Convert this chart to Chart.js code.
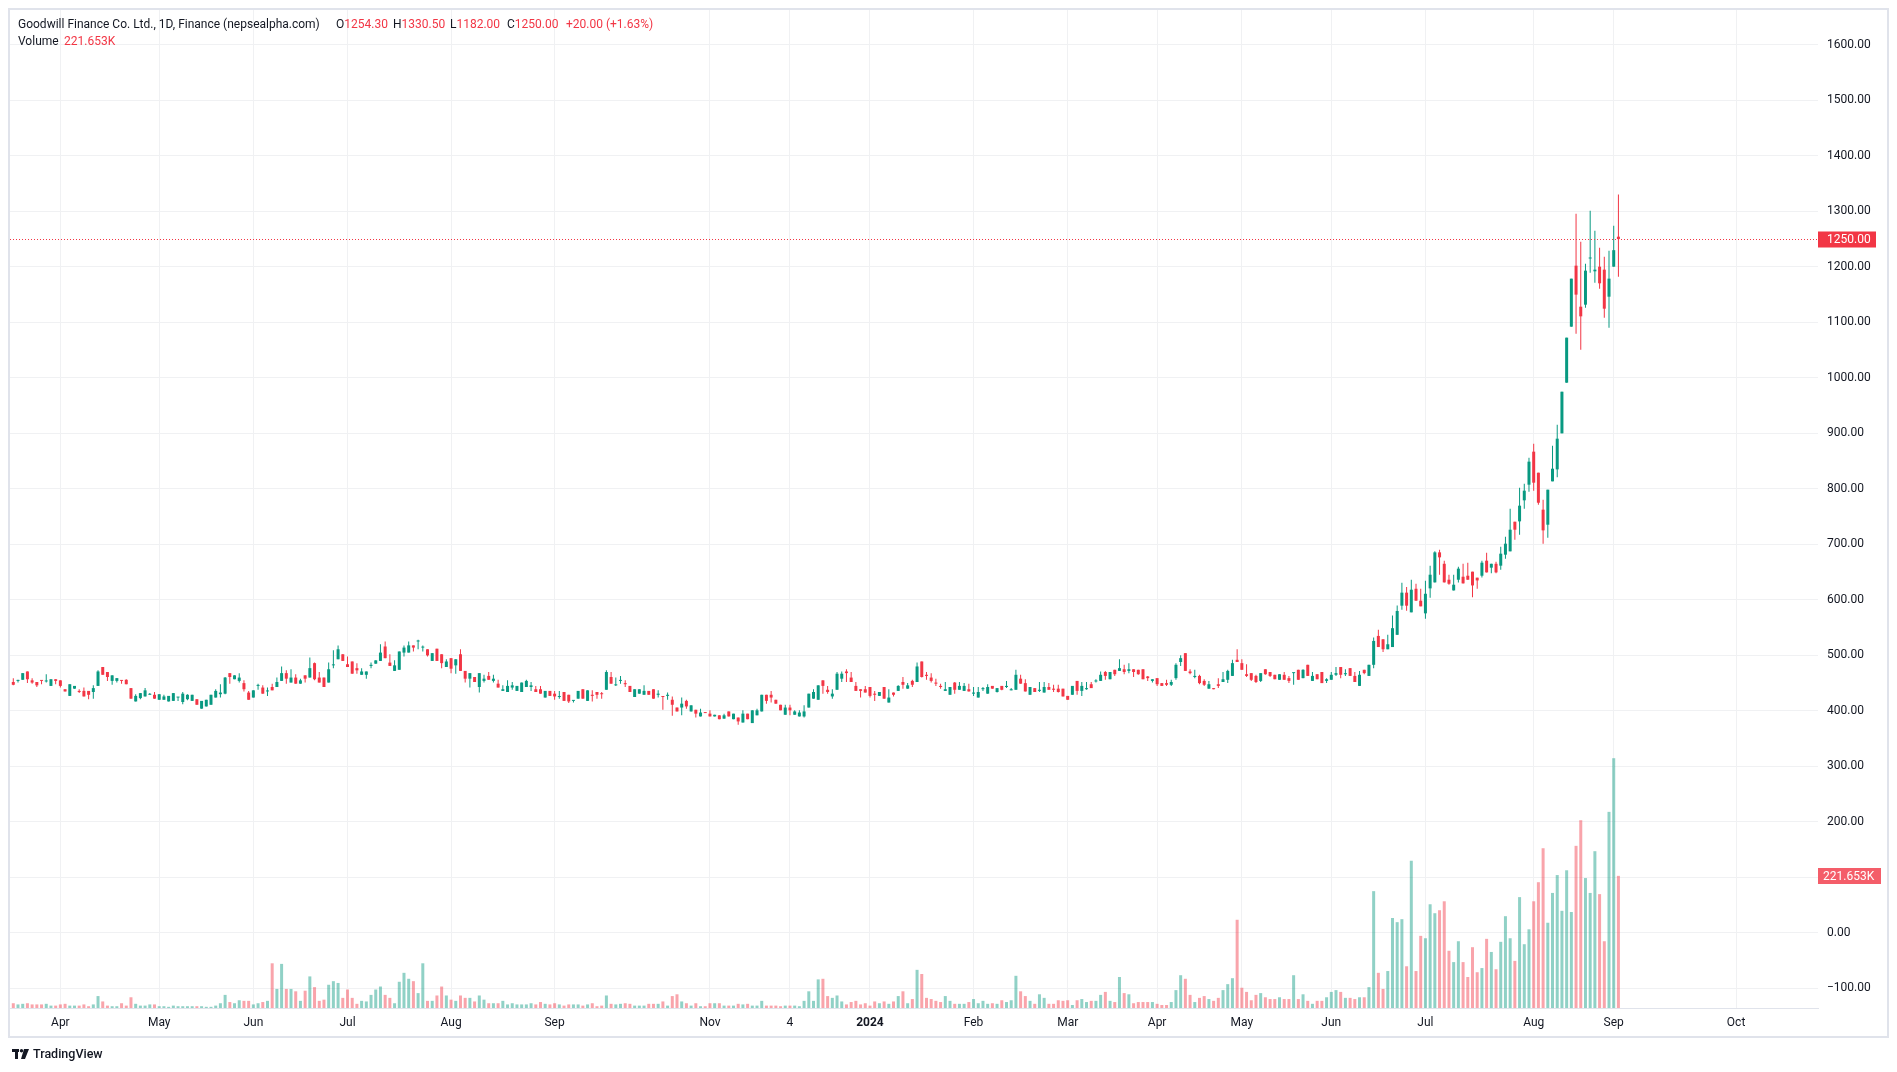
<!DOCTYPE html>
<html>
<head>
<meta charset="utf-8">
<script src="https://cdn.jsdelivr.net/npm/chart.js@4.4.1/dist/chart.umd.min.js"></script>
<style>
  html, body { margin: 0; padding: 0; background: #fff; }
  #wrap { position: relative; width: 1897px; height: 1072px; }
</style>
</head>
<body>
<div id="wrap"><canvas id="chart" width="1897" height="1072"></canvas></div>
<script>
// ── Dados (GFCL, diário) ─────────────────────────────────────
const opens = [
  452,454,456,471,455,452,455,453,445,457, 455,439,427,440,436,436,436,434,445,479,
  470,454,454,455,456,441,417,423,426,429, 429,420,420,417,418,424,416,421,418,421,
  404,408,411,424,430,431,468,457,454,450, 433,424,445,442,435,443,443,454,468,451,
  460,449,464,460,486,460,460,451,482,493, 502,484,489,477,465,465,481,485,490,516,
  487,472,474,505,505,518,525,514,511,490, 512,502,479,495,482,502,472,458,461,443,
  454,463,454,449,
  436,434,442,436,434,443,443,439,439,424, 436,431,425,434,429,418,422,439,418,429,
  434,431,438,461,446,454,450,445,425,431, 429,436,439,429,426,427,420,406,406,418,
  399,402,390,397,395,390,392,386,399,385, 388,379,395,378,392,399,429,429,420,411,
  393,406,393,390,390,406,422,420,455,438, 426,438,458,471,460,445,439,439,443,431,
  427,443,415,433,436,452,440,454,452,489, 465,460,451,445,436,429,451,438,436,439,
  431,424,439,431,445,434,
  445,443,437,438,458,450,429,441,436,433, 443,440,440,440,427,429,454,436,439,448,
  453,454,470,457,474,472,475,472,475,474, 475,462,454,459,450,450,447,459,488,504,
  471,461,463,454,440,441,448,452,456,463, 492,486,466,468,463,454,475,470,465,456,
  465,459,468,474,459,483,454,466,470,454, 456,465,479,466,477,463,445,474,463,483,
  535,529,511,515,537,
  589.5,613,577.5,620,598.5,575.7,620.7,631.5,685.6,665,
  636.3,617,636.3,641.7,643.5,650.8,640,643.5,670.6,658,
  665,661.6,681.4,687.4,740.8,741.4,779.3,807.5,867,829.1,
  762.5,735.4,813.5,835.1,900,991.3,1092.2,1202.1,1128.2,1131.8,
  1215,1191.9,1200.3,1194.9,1146.2,1200.3,1254.3
];
const highs = [
  459,456,468,471,459,452,455,466,457,457, 455,439,448,445,439,442,436,446,473,479,
  470,464,459,455,457,441,430,432,441,432, 434,430,429,427,432,425,434,430,429,421,
  418,420,429,439,448,461,468,464,468,455, 436,437,449,446,442,449,460,480,473,475,
  466,458,464,496,487,470,460,487,509,518, 502,498,489,486,477,471,487,491,520,525,
  502,491,507,518,525,518,528,518,511,504, 512,502,493,495,493,511,472,468,461,468,
  465,470,465,456,
  446,455,452,445,451,456,452,445,445,436, 436,436,436,434,429,419,436,439,437,437,
  434,434,473,470,460,463,455,445,439,439, 446,436,439,437,426,433,426,406,424,420,
  410,402,404,397,401,393,392,395,399,395, 388,401,395,401,404,429,429,436,420,411,
  411,411,401,401,410,431,439,446,455,445, 439,470,471,475,470,452,439,445,443,436,
  434,443,439,433,446,461,450,456,487,489, 470,468,458,449,452,443,452,452,450,449,
  443,443,443,448,445,441,
  445,454,441,474,465,457,443,441,452,452, 450,447,447,440,427,445,454,452,452,452,
  457,471,472,470,474,493,483,486,475,474, 475,463,457,459,450,456,456,486,500,504,
  475,474,465,457,454,441,459,470,474,492, 511,493,484,468,465,468,475,470,465,466,
  470,463,468.5,474,475,483,470,466,470,459, 470,479,479,475,477,470,472,474,483,532,
  546,529,537,572,590,
  631,623,636.3,629,620,634.5,661.6,687.4,690.4,670.6,
  645.3,645.3,659.8,665,667,650.8,640,670.6,685,665,
  668.8,695.8,713.8,764.3,740.8,802.1,809.3,856.2,881.4,829.1,
  780.5,798.5,877.8,915.6,975,1072.4,1178.7,1295.8,1245.3,1205.7,
  1301,1265.2,1234.5,1218.3,1229.1,1274.2,1330.5
];
const lows = [
  446,451,456,450,449,443,448,451,445,448, 442,435,427,440,432,426,421,422,445,465,
  454,447,451,449,448,422,417,421,426,429, 422,420,420,417,418,418,412,419,418,411,
  404,408,411,424,424,430,449,457,451,435, 420,424,438,431,427,437,443,454,449,451,
  449,449,451,460,455,451,443,451,477,493, 490,479,467,467,465,458,477,485,490,495,
  481,472,474,498,505,507,511,507,498,490, 490,477,479,468,467,472,451,442,452,433,
  451,456,451,442,
  436,434,438,436,434,443,436,434,431,424, 427,420,422,418,414,415,422,422,418,417,
  422,422,438,449,445,449,443,434,425,431, 429,429,422,424,402,420,391,399,392,404,
  399,388,390,396,390,390,385,386,390,385, 375,379,385,378,392,399,413,415,413,401,
  393,392,393,390,388,406,422,420,431,431, 422,438,452,452,452,436,424,433,424,418,
  427,422,415,426,436,440,440,443,452,460, 456,451,445,440,436,429,431,438,436,435,
  427,424,436,431,440,433,
  437,441,437,438,449,435,429,434,434,433, 438,434,433,426,420,429,429,427,438,441,
  451,454,456,457,463,472,466,468,461,465, 457,454,451,445,445,445,445,456,481,472,
  466,459,448,445,440,439,441,452,450,463, 488,474,461,454,450,452,465,461,457,456,
  456,450,447,456,459,463,454,457,450,450, 456,463,459,463,463,452,445,466,463,477,
  515,506,511,515,537,
  582,580.5,577.5,598.5,588.3,566,604,631.5,645.3,631.5,
  627.3,617,631.5,629.7,636.3,604.5,620,640.5,649.5,648,
  648,654.4,674.2,687.4,708.4,717.4,764.3,795,796.7,771.5,
  701.2,712,813.5,820.7,900,991.3,1092.2,1079.6,1050.8,1126.4,
  1189.5,1171.5,1160.7,1108.4,1090.4,1200.3,1182
];
const closes = [
  447,455,468,457,451,446,454,454,457,454, 445,435,448,445,434,426,429,441,471,465,
  461,464,459,454,448,422,427,432,437,429.5, 422,430,426,427,432,425,431,429,429,411,
  418,420,429,436,433,460,461,464,460,439, 420,437,446,431,436,437,452,468,458,460,
  449,455,458,477,457,451,443,475,483,511, 490,479,467,473,471,471,483,491,505,495,
  481,482,507,514,518,514,525.5,515,500,504, 490,486,489,476,493,472,458,468,452,468,
  458,456,458,442,
  439,445,446,445,451,454,446,434,431,436, 427,426,426,418,417,419,436,422,437,427,
  429,430,470,449,447,455,448,434,439,439, 436,429,422,431,425,429,411,399,413,408,
  410,395,397,396,390,393,385,392,390,395, 381,395,385,401,401,429,418,424,413,401,
  406,401,399,397,399,431,434,446,445,434, 431,467,467,468,452,436,436,433,427,429,
  434,422,424,429,445,447,446,447,480,461, 463,454,449,443,439,443,438,445,445,435,
  433,434,441,443,440,441,
  438,445,439,465,449,435,443,434,438,443, 438,438,434,426,420,445,436,445,441,441,
  454,465,463,470,466,477,470,475,470,466, 457,459,457,448,445,447,452,483,495,472,
  468,463,450,447,448,439,445,457,472,486, 488,474,463,456,452,468,466,463,457,466,
  456,454,468.5,456,474,463,463,457,450,457, 465,468,465,468,463,452,465,468,483,526,
  515,511,520,549,580,
  613,589.5,618.3,598.5,588.3,611,645.3,685.6,676.6,631.5,
  629,627.3,656.2,629.7,636.3,626,635,667,649.5,665,
  649.5,683.2,701.2,726.4,726.4,769.7,796.7,849,811.1,775,
  725.2,798.5,836.3,890.4,975,1072.4,1178.7,1149.9,1110.8,1193.1,
  1216,1194.9,1170.3,1124.6,1178.7,1230,1250
];
// volume em milhares (K)
const volumes = [
  8,6,7,8,6,6,6,7,4,4, 6,7,4,4,4,6,3,6,20,11, 4,3,3,8,4,18,7,4,4,6, 6,3,3,2,4,3,3,3,3,3,
  3,2,2,4,8,22,10,8,13,12, 12,6,8,10,12,75,32,74,32,32, 28,12,29,53,35,12,14,39,45,42,
  17,31,17,7,12,11,22,31,36,22, 17,8,44,59,49,45,25,75,12,12, 21,36,21,14,12,21,17,17,11,21,
  14,8,8,8,12,6,8,6,6,6, 8,6,10,7,6,8,6,4,6,6, 6,4,6,8,3,4,21,7,6,7, 8,7,4,4,4,7,7,7,11,4,
  20,23,11,8,4,8,3,3,8,8, 8,4,4,4,7,6,7,4,4,12, 4,4,4,3,4,4,4,3,12,28, 12,48,49,20,17,21,11,6,10,12,
  6,8,4,11,8,11,7,11,20, 28,
  8,15,64,57,17,15,12,10,20,12, 7,7,7,10,15,8,12,7,8,7,
  13,10,13,54,28,20,12,7,23,17, 7,7,13,12,13,5,13,15,10,12, 12,22,27,12,10,52,25,23,8,10,
  10,10,10,7,5,5,10,30,55,49, 22,10,17,20,15,12,17,30,40,50, 148,34,27,13,22,25,18,15,15,18,
  15,15,55,15,23,12,7,12,12,18, 27,30,27,17,17,15,18,18,35,196, 59,32,62,151,144,149,70,247,62,121,
  117,174,159,164,179,96,77,112,77,52, 102,60,67,116,94,65,111,154,117,79,
  186,107,132,179,211,268,143,193,223,163, 231,161,272,315,218,193,263,191,112,329,
  419,221.653
];

// marcas do eixo de tempo (índice do pregão → rótulo)
const monthTicks  = [10, 31, 51, 71, 93, 115, 148, 165, 182, 204, 224, 243, 261, 280, 300, 323, 340, 366];
const monthLabels = ['Apr','May','Jun','Jul','Aug','Sep','Nov','4','2024','Feb','Mar','Apr','May','Jun','Jul','Aug','Sep','Oct'];
const priceTicks  = [-100,0,100,200,300,400,500,600,700,800,900,1000,1100,1200,1300,1400,1500,1600];

// ── Estilo ───────────────────────────────────────────────────
const UP = '#089981', DOWN = '#f23645';
const UP_VOL = 'rgba(8,153,129,0.45)', DOWN_VOL = 'rgba(242,54,69,0.45)';
const GRID = '#f0f1f3', TEXT = '#131722';
const FONT = "'Trebuchet MS', Roboto, 'Liberation Sans', sans-serif";

if ([opens, highs, lows, volumes].some(a => a.length !== closes.length)) {
  console.error('tamanhos diferentes', opens.length, highs.length, lows.length, closes.length, volumes.length);
}

const idx  = closes.map((_, i) => i);
const isUp = idx.map(i => closes[i] >= opens[i]);
const last = closes.length - 1;

// ── Plugin: moldura, linha de último preço, legenda ─────────
const overlay = {
  id: 'overlay',
  beforeDraw(chart) {
    const c = chart.ctx;
    c.save();
    c.fillStyle = '#fff';
    c.fillRect(0, 0, chart.width, chart.height);
    c.restore();
  },
  afterDraw(chart) {
    const c = chart.ctx, a = chart.chartArea;
    const y = chart.scales.y, yv = chart.scales.yv;
    c.save();

    // moldura
    c.strokeStyle = '#e0e3eb';
    c.lineWidth = 2;
    c.strokeRect(9, 9, 1879, 1028);

    // linha pontilhada do último preço
    const py = Math.round(y.getPixelForValue(closes[last])) + 0.5;
    c.strokeStyle = DOWN;
    c.lineWidth = 1;
    c.setLineDash([1, 2]);
    c.beginPath(); c.moveTo(a.left, py); c.lineTo(a.right, py); c.stroke();
    c.setLineDash([]);

    c.font = `12px ${FONT}`;
    c.textBaseline = 'middle';
    c.textAlign = 'left';

    // etiqueta do preço
    c.fillStyle = DOWN;
    c.fillRect(a.right, py - 8, 58, 16);
    c.fillStyle = '#fff';
    c.fillText(closes[last].toFixed(2), a.right + 9, py + 0.5);

    // etiqueta do volume
    const vy = Math.round(yv.getPixelForValue(volumes[last]));
    c.fillStyle = '#f45d69';
    c.fillRect(a.right, vy - 8, 63, 16);
    c.fillStyle = '#fff';
    c.fillText(volumes[last].toFixed(3) + 'K', a.right + 5, vy + 0.5);

    // legenda
    c.font = `12px ${FONT}`;
    const put = (x, yy, label, value) => {
      c.fillStyle = TEXT;
      c.fillText(label, x, yy);
      c.fillStyle = DOWN;
      c.fillText(value, x + c.measureText(label).width, yy);
    };
    c.fillStyle = TEXT;
    c.fillText('Goodwill Finance Co. Ltd., 1D, Finance (nepsealpha.com)', 18, 25);
    put(336, 25, 'O', opens[last].toFixed(2));
    put(393, 25, 'H', highs[last].toFixed(2));
    put(450, 25, 'L', lows[last].toFixed(2));
    put(507, 25, 'C', closes[last].toFixed(2));
    const diff = closes[last] - closes[last - 1];
    const pct = diff / closes[last - 1] * 100;
    put(566, 25, '', `+${diff.toFixed(2)} (+${pct.toFixed(2)}%)`);
    put(18, 42, 'Volume', '');
    put(64, 42, '', volumes[last].toFixed(3) + 'K');

    // logo TradingView
    c.fillStyle = TEXT;
    c.fillRect(12, 1049, 7, 3);
    c.fillRect(15, 1049, 3, 10);
    c.beginPath(); c.arc(21.5, 1050.8, 1.7, 0, Math.PI * 2); c.fill();
    c.beginPath(); c.moveTo(24, 1049); c.lineTo(29, 1049); c.lineTo(25, 1059); c.lineTo(21, 1059); c.closePath(); c.fill();
    c.font = `500 12.5px ${FONT}`;
    c.fillText('TradingView', 33, 1055);

    c.restore();
  }
};

// ── Gráfico ──────────────────────────────────────────────────
new Chart(document.getElementById('chart'), {
  type: 'bar',
  data: {
    datasets: [
      {
        label: 'corpo',
        data: idx.map(i => ({ x: i, y: [opens[i], closes[i]] })),
        backgroundColor: idx.map(i => isUp[i] ? UP : DOWN),
        barThickness: 3, minBarLength: 1, inflateAmount: 0,
        grouped: false, yAxisID: 'y', order: 0
      },
      {
        label: 'pavio',
        data: idx.map(i => ({ x: i, y: [lows[i], highs[i]] })),
        backgroundColor: idx.map(i => isUp[i] ? UP : DOWN),
        barThickness: 1, inflateAmount: 0,
        grouped: false, yAxisID: 'y', order: 1
      },
      {
        label: 'volume',
        data: idx.map(i => ({ x: i, y: volumes[i] })),
        backgroundColor: idx.map(i => isUp[i] ? UP_VOL : DOWN_VOL),
        barThickness: 3, inflateAmount: 0,
        grouped: false, yAxisID: 'yv', order: 2
      }
    ]
  },
  options: {
    responsive: false,
    devicePixelRatio: 1,
    animation: false,
    events: [],
    layout: { padding: { left: 10, top: 10, right: 10, bottom: 36 } },
    plugins: { legend: { display: false }, tooltip: { enabled: false } },
    scales: {
      x: {
        type: 'linear',
        offset: false,
        min: -0.7, max: 383.4,
        afterBuildTicks: s => { s.ticks = monthTicks.map(v => ({ value: v })); },
        afterFit: s => { s.height = 28; s.paddingLeft = 0; s.paddingRight = 0; },
        ticks: {
          autoSkip: false, maxRotation: 0, padding: 8, color: TEXT,
          callback: v => monthLabels[monthTicks.indexOf(v)],
          font: ctx => ({
            family: FONT, size: 12,
            weight: ctx.tick && monthLabels[monthTicks.indexOf(ctx.tick.value)] === '2024' ? 'bold' : 'normal'
          })
        },
        grid: { color: GRID, drawTicks: false, offset: false },
        border: { display: true, color: '#e0e3eb' }
      },
      y: {
        type: 'linear',
        position: 'right',
        min: -135.3, max: 1662.7,
        afterBuildTicks: s => { s.ticks = priceTicks.map(v => ({ value: v })); },
        afterFit: s => { s.width = 69; s.paddingTop = 0; s.paddingBottom = 0; },
        ticks: {
          padding: 9, color: TEXT, font: { family: FONT, size: 12 },
          callback: v => (v < 0 ? '\u2212' : '') + Math.abs(v).toFixed(2)
        },
        grid: { color: GRID, drawTicks: false },
        border: { display: false }
      },
      yv: { type: 'linear', display: false, min: 0, max: 1674 }
    }
  },
  plugins: [overlay]
});
</script>
</body>
</html>
